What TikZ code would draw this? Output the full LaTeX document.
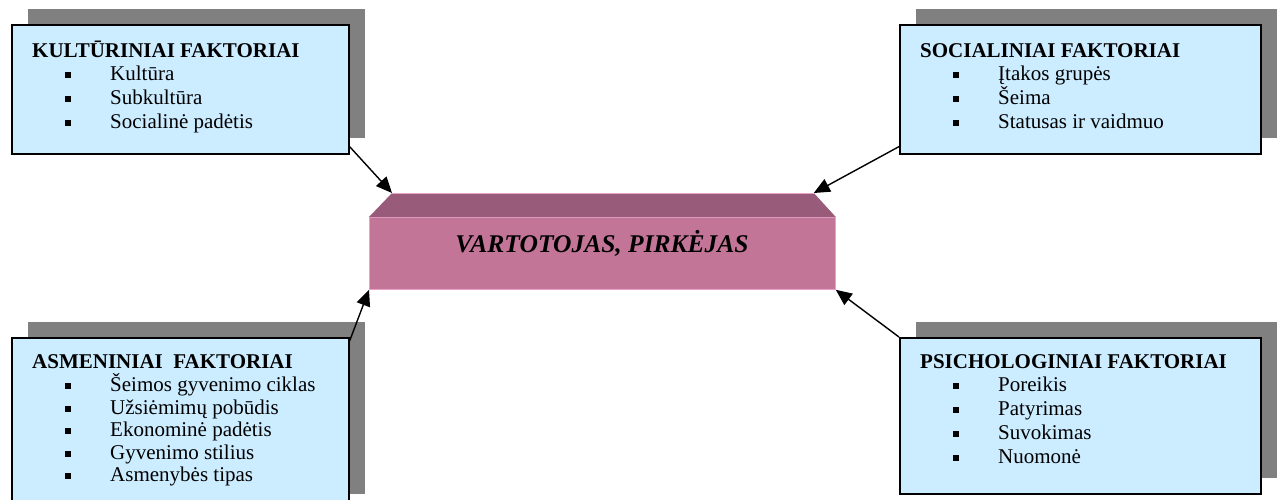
\documentclass[tikz,border=0pt]{standalone}
\usepackage{fontspec}
\setmainfont{Liberation Serif}
\usetikzlibrary{arrows.meta,shadows}
\definecolor{boxblue}{HTML}{CCECFF}
\definecolor{shadowgray}{HTML}{808080}
\definecolor{frontpink}{HTML}{C37598}
\definecolor{toppink}{HTML}{985C7A}
\definecolor{edgepink}{HTML}{E9A2C9}
\newcommand{\itm}[1]{\rule[2.5pt]{5.5pt}{6pt}\hspace{39.5pt}#1}
\begin{document}
\begin{tikzpicture}[x=1pt,y=-1pt,
  factbox/.style={draw=black, line width=1.6pt, fill=boxblue, anchor=north west,
    inner sep=0pt,
    general shadow={fill=shadowgray, shadow xshift=16pt, shadow yshift=15.5pt}},
  boxtitle/.style={anchor=base west, inner sep=0pt, font=\fontsize{21}{24}\selectfont\bfseries},
  boxitem/.style={anchor=base west, inner sep=0pt, font=\fontsize{21}{24}\selectfont},
  link/.style={line width=1.4pt, -{Triangle[length=16pt,width=14pt]}}]
\useasboundingbox (0,0) rectangle (1280,499);
\clip (0,0) rectangle (1280,499);
\fill[white] (0,0) rectangle (1280,499);

% factor boxes
\node[factbox, minimum width=337pt, minimum height=129pt] (kult) at (11,24) {};
\node[factbox, minimum width=361pt, minimum height=129pt] (soc) at (899,24) {};
\node[factbox, minimum width=337pt, minimum height=172pt] (asm) at (11,337) {};
\node[factbox, minimum width=361pt, minimum height=156pt] (psi) at (899,337) {};

% cultural factors
\node[boxtitle] (kt) at (32,57) {KULTŪRINIAI FAKTORIAI};
\node[boxitem] (k1) at (65,80) {\itm{Kultūra}};
\node[boxitem] (k2) at (65,104) {\itm{Subkultūra}};
\node[boxitem] (k3) at (65,128) {\itm{Socialinė padėtis}};

% social factors
\node[boxtitle] (st) at (920,57) {SOCIALINIAI FAKTORIAI};
\node[boxitem] (s1) at (953,80) {\itm{Įtakos grupės}};
\node[boxitem] (s2) at (953,104) {\itm{Šeima}};
\node[boxitem] (s3) at (953,128) {\itm{Statusas ir vaidmuo}};

% personal factors
\node[boxtitle] (at) at (32,368) {ASMENINIAI\ \ FAKTORIAI};
\node[boxitem] (a1) at (65,391.5) {\itm{Šeimos gyvenimo ciklas}};
\node[boxitem] (a2) at (65,414) {\itm{Užsiėmimų pobūdis}};
\node[boxitem] (a3) at (65,436.5) {\itm{Ekonominė padėtis}};
\node[boxitem] (a4) at (65,459) {\itm{Gyvenimo stilius}};
\node[boxitem] (a5) at (65,481.5) {\itm{Asmenybės tipas}};

% psychological factors
\node[boxtitle] (pt) at (920,368) {PSICHOLOGINIAI FAKTORIAI};
\node[boxitem] (p1) at (953,391.5) {\itm{Poreikis}};
\node[boxitem] (p2) at (953,415) {\itm{Patyrimas}};
\node[boxitem] (p3) at (953,439) {\itm{Suvokimas}};
\node[boxitem] (p4) at (953,463) {\itm{Nuomonė}};

% central bevelled block
\node[fill=frontpink, draw=edgepink, line width=0.8pt, anchor=north west,
      minimum width=466pt, minimum height=72pt, inner sep=0pt] (buyer) at (369,217) {};
\coordinate (bl) at ([xshift=23pt,yshift=24pt]buyer.north west);
\coordinate (br) at ([xshift=-22pt,yshift=24pt]buyer.north east);
\fill[toppink] (buyer.north west) -- (bl) -- (br) -- (buyer.north east) -- cycle;
\draw[edgepink, line width=0.6pt] (bl) -- (br);
\node[anchor=base, inner sep=0pt, font=\fontsize{25.5}{28}\selectfont\bfseries\itshape]
  (buyertxt) at (602,252) {VARTOTOJAS, PIRKĖJAS};

% influences
\draw[link] ([yshift=8pt]kult.south east) -- (bl);
\draw[link] ([yshift=8pt]soc.south west) -- (br);
\draw[link] ([yshift=-4pt]asm.north east) -- (buyer.south west);
\draw[link] (psi.north west) -- (buyer.south east);
\end{tikzpicture}
\end{document}
